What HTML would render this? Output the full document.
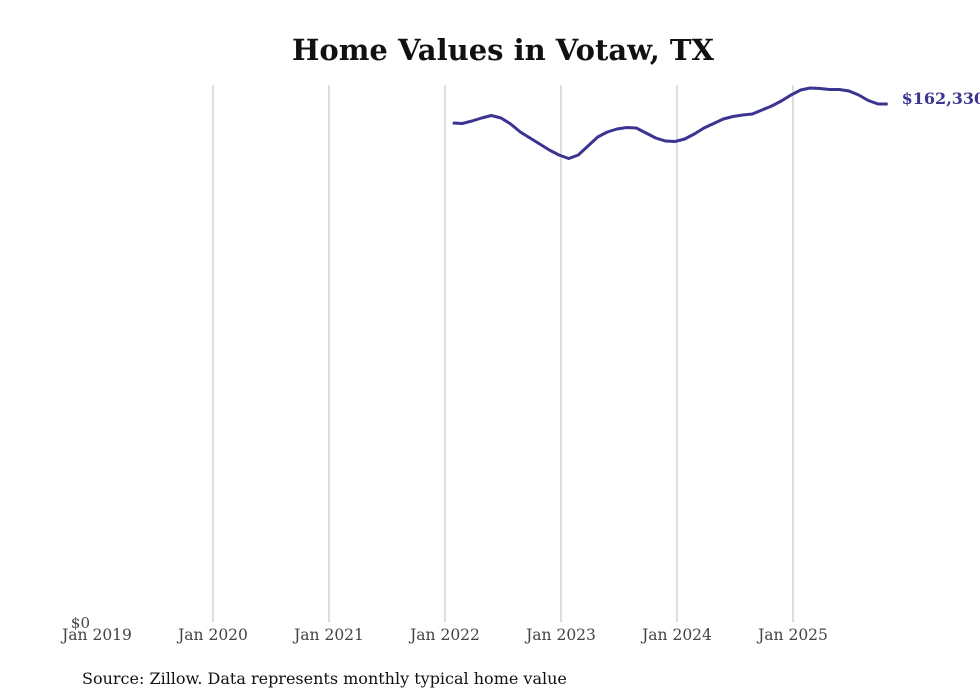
<!DOCTYPE html>
<html><head><meta charset="utf-8"><style>
body{margin:0;background:#fff;}
svg{display:block;font-family:"DejaVu Serif","Liberation Serif",serif;}
</style></head><body>
<svg id="chart" width="980" height="699">
<text x="503" y="60" text-anchor="middle" font-size="29" font-weight="bold" fill="#111">Home Values in Votaw, TX</text>
<g id="grid"></g>
<g id="xt"></g>
<text x="90" y="628" text-anchor="end" font-size="15" fill="#444">$0</text>
<path id="line" fill="none" stroke="#3b3491" stroke-width="3" stroke-linejoin="round"></path>
<text id="endlbl" font-size="16" font-weight="bold" fill="#3b3491"></text>
<text x="82" y="684" font-size="16" fill="#111">Source: Zillow. Data represents monthly typical home value</text>
</svg>
<script>
const tickLabels=["Jan 2019","Jan 2020","Jan 2021","Jan 2022","Jan 2023","Jan 2024","Jan 2025"];
const startMonth=37; // Feb 2022, months since Jan 2019
const values=[156390,156230,157010,157950,158740,157950,156070,153570,151690,149810,147930,146360,145270,146360,149180,152000,153570,154510,154980,154820,153250,151690,150750,150590,151380,152940,154820,156230,157640,158420,158890,159210,160460,161710,163280,165160,166730,167360,167200,166890,166890,166420,165160,163440,162330,162330];
const yMax=168300;
const x=m=>97+m*116/12;
const y=v=>622-v/yMax*537;
const ns="http://www.w3.org/2000/svg";
const grid=document.getElementById('grid'),xt=document.getElementById('xt');
tickLabels.forEach((t,i)=>{
  const X=x(i*12);
  if(i>0){const l=document.createElementNS(ns,'line');
  l.setAttribute('x1',X);l.setAttribute('x2',X);l.setAttribute('y1',85);l.setAttribute('y2',622);
  l.setAttribute('stroke','#bdbdbd');l.setAttribute('stroke-width','1');
  
  
  grid.appendChild(l);}
  const tx=document.createElementNS(ns,'text');
  tx.setAttribute('x',X);tx.setAttribute('y',640);tx.setAttribute('text-anchor','middle');
  tx.setAttribute('font-size','15.5');tx.setAttribute('fill','#444');tx.textContent=t;
  
  
  xt.appendChild(tx);
});
let d='';
values.forEach((v,i)=>{d+=(i?'L':'M')+(x(startMonth+i)-2).toFixed(1)+','+y(v).toFixed(1);});
document.getElementById('line').setAttribute('d',d);
const last=values[values.length-1];
const el=document.getElementById('endlbl');
el.setAttribute('x',x(startMonth+values.length-1)+12);
el.setAttribute('y',y(last)-0);
el.textContent='$'+last.toLocaleString('en-US');
</script>
</body></html>
